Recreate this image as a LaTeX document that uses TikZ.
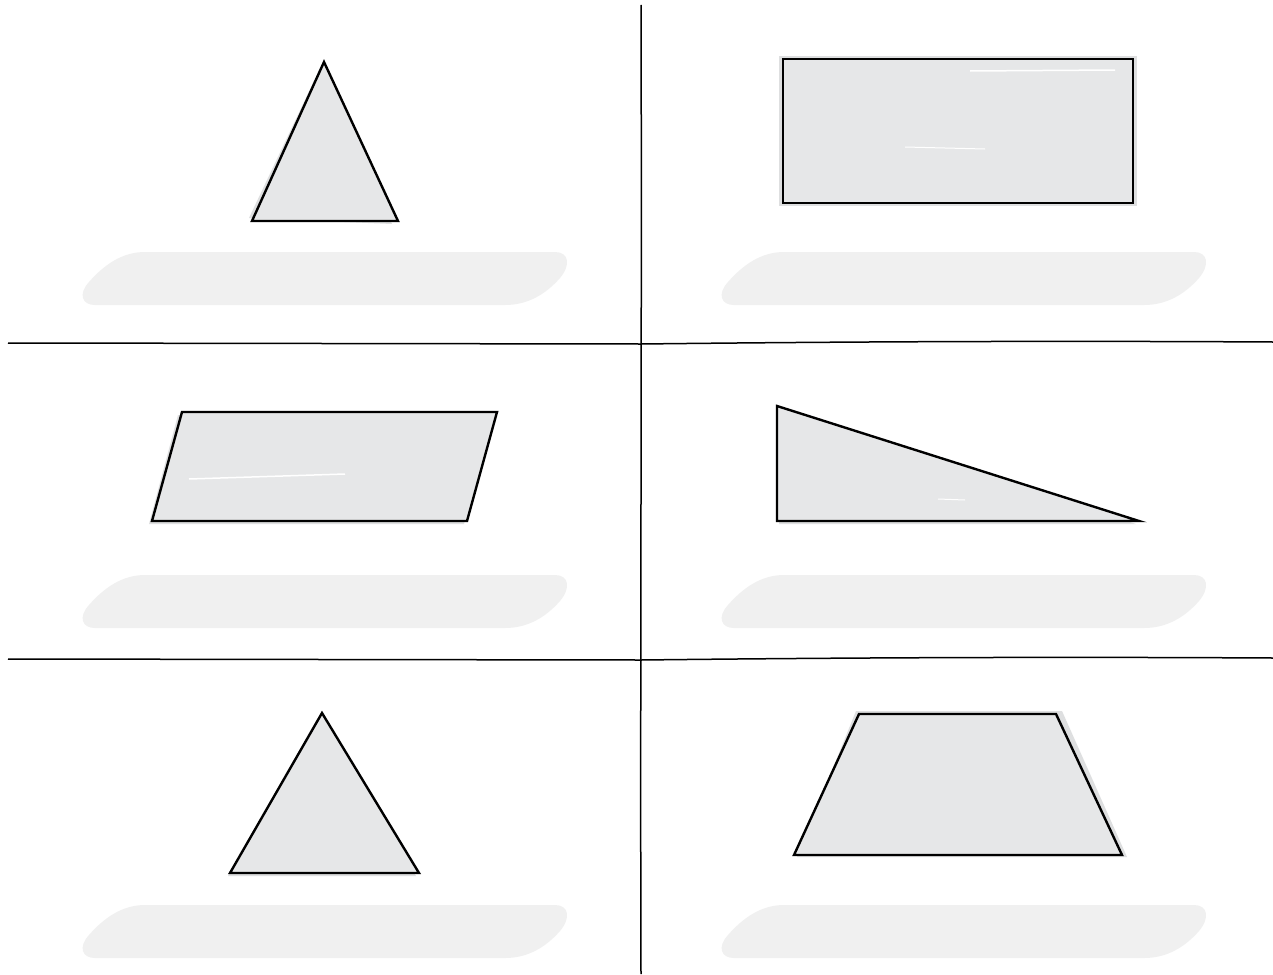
\documentclass[tikz,border=0pt]{standalone}
\usetikzlibrary{calc}
\definecolor{shapefill}{HTML}{E6E7E8}
\definecolor{shadowc}{HTML}{DEDFE0}
\definecolor{pillc}{HTML}{F0F0F0}
\tikzset{
  shapeline/.style={draw=black, fill=shapefill, line width=2.4pt, line join=miter},
  shadowfill/.style={fill=shadowc, draw=none},
  divider/.style={draw=black, line width=1.5pt},
  pillshape/.style={fill=pillc, draw=none}
}
\newcommand{\mypill}[2]{%
  \path[pillshape, shift={(#1,#2)}] (145,252) -- (555,252)
    .. controls (569,252) and (571,265) .. (560,278)
    .. controls (545,295) and (527,305) .. (505,305) -- (95,305)
    .. controls (82,305) and (78,294) .. (89,282)
    .. controls (104,265) and (122,252) .. (145,252) -- cycle;}
\begin{document}
\begin{tikzpicture}[x=1pt,y=-1pt]
\useasboundingbox (0,0) rectangle (1273,974);
\fill[white] (0,0) rectangle (1273,974);
% dividers
\draw[divider] (641,5) .. controls (642,300) and (640,700) .. (641,974);
\draw[divider] (8,343) -- (641,344);
\draw[divider] (641,344) .. controls (900,341) and (1100,341) .. (1273,342);
\draw[divider] (8,659) -- (641,660);
\draw[divider] (641,660) .. controls (900,657) and (1100,657) .. (1273,658);
% pills
\mypill{0}{0}
\mypill{639}{0}
\mypill{0}{323}
\mypill{639}{323}
\mypill{0}{653}
\mypill{639}{653}
% shape 1: triangle
\path[shadowfill] (322,64) -- (249,218) -- (392,224) -- cycle;
\path[shapeline] (324,62) -- (398,221) -- (252,221) -- cycle;
% shape 2: rectangle
\path[shadowfill] (779,56) rectangle (1137,206);
\path[shapeline] (783,59) rectangle (1133,203);
% shape 3: parallelogram
\path[shadowfill] (178,415) -- (494,415) -- (464,524) -- (149,524) -- cycle;
\path[shapeline] (182,412) -- (497,412) -- (467,521) -- (152,521) -- cycle;
% shape 4: right triangle
\path[shadowfill] (779,408) -- (1136,524) -- (779,524) -- cycle;
\path[shapeline] (777,406) -- (1139,521) -- (777,521) -- cycle;
% shape 5: triangle
\path[shadowfill] (319,716) -- (416,876) -- (228,876) -- cycle;
\path[shapeline] (322,713) -- (419,873) -- (230,873) -- cycle;
% shape 6: trapezoid
\path[shadowfill] (856,711) -- (1062,711) -- (1127,857) -- (797,857) -- cycle;
\path[shapeline] (859,714) -- (1056,714) -- (1122,855) -- (794,855) -- cycle;
% white highlight strokes
\draw[white, line width=1.5pt] (970,71) -- (1115,70);
\draw[white, line width=1pt] (905,147) -- (985,149);
\draw[white, line width=1.5pt] (189,479) -- (345,474);
\draw[white, line width=1pt] (938,499) -- (965,500);
\end{tikzpicture}
\end{document}
